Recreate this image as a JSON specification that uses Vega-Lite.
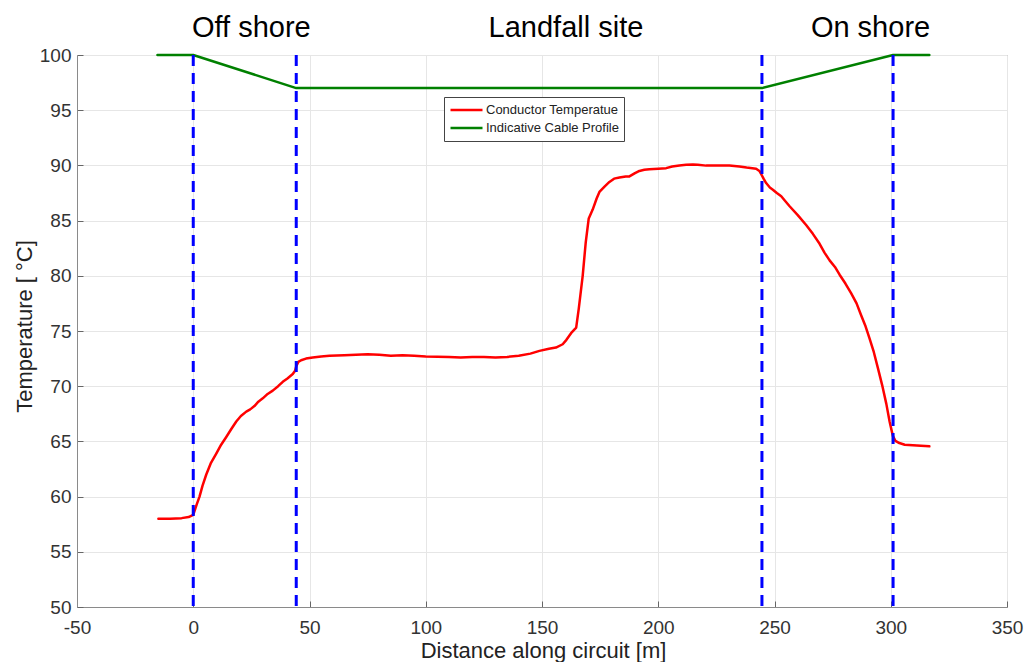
{
  "$schema": "https://vega.github.io/schema/vega-lite/v6.json",
  "width": 930,
  "height": 552,
  "autosize": {"type": "none"},
  "padding": {"left": 77, "top": 55, "right": 20, "bottom": 55},
  "background": "white",
  "config": {
    "font": "Liberation Sans",
    "view": {"stroke": "#8a8a8a", "strokeWidth": 1},
    "axis": {
      "domainColor": "#8a8a8a",
      "gridColor": "#e6e6e6",
      "tickColor": "#666666",
      "tickSize": -6,
      "labelFont": "Liberation Sans",
      "labelFontSize": 19,
      "labelColor": "#333333",
      "titleFont": "Liberation Sans",
      "titleFontSize": 22,
      "titleFontWeight": "normal",
      "titleColor": "#222222"
    },
    "legend": {
      "orient": "none",
      "legendX": 367,
      "legendY": 42,
      "symbolType": "stroke",
      "symbolSize": 1024,
      "symbolStrokeWidth": 2.5,
      "clipHeight": 16,
      "rowPadding": 2,
      "labelFont": "Liberation Sans",
      "labelFontSize": 13,
      "labelColor": "#222222",
      "labelOffset": 2,
      "strokeColor": "#444444",
      "fillColor": "white",
      "padding": 5
    }
  },
  "datasets": {
    "curves": [
      {"series": "Conductor Temperatue", "x": -15, "y": 58.0},
      {"series": "Conductor Temperatue", "x": -10, "y": 58.0},
      {"series": "Conductor Temperatue", "x": -5, "y": 58.05},
      {"series": "Conductor Temperatue", "x": -2, "y": 58.15},
      {"series": "Conductor Temperatue", "x": 0, "y": 58.35},
      {"series": "Conductor Temperatue", "x": 1.5, "y": 59.3},
      {"series": "Conductor Temperatue", "x": 2.7, "y": 60.0},
      {"series": "Conductor Temperatue", "x": 4, "y": 61.0},
      {"series": "Conductor Temperatue", "x": 5.6, "y": 62.0},
      {"series": "Conductor Temperatue", "x": 7.5, "y": 63.0},
      {"series": "Conductor Temperatue", "x": 9.9, "y": 63.9},
      {"series": "Conductor Temperatue", "x": 12, "y": 64.7},
      {"series": "Conductor Temperatue", "x": 14.2, "y": 65.4},
      {"series": "Conductor Temperatue", "x": 16.3, "y": 66.1},
      {"series": "Conductor Temperatue", "x": 18.5, "y": 66.8},
      {"series": "Conductor Temperatue", "x": 20.5, "y": 67.3},
      {"series": "Conductor Temperatue", "x": 22.8, "y": 67.7},
      {"series": "Conductor Temperatue", "x": 24.5, "y": 67.9},
      {"series": "Conductor Temperatue", "x": 26.3, "y": 68.2},
      {"series": "Conductor Temperatue", "x": 28, "y": 68.6},
      {"series": "Conductor Temperatue", "x": 29.9, "y": 68.9},
      {"series": "Conductor Temperatue", "x": 32, "y": 69.3},
      {"series": "Conductor Temperatue", "x": 34.2, "y": 69.6},
      {"series": "Conductor Temperatue", "x": 36.5, "y": 70.0},
      {"series": "Conductor Temperatue", "x": 38.5, "y": 70.4},
      {"series": "Conductor Temperatue", "x": 40.5, "y": 70.7},
      {"series": "Conductor Temperatue", "x": 42.8, "y": 71.1},
      {"series": "Conductor Temperatue", "x": 43.8, "y": 71.4},
      {"series": "Conductor Temperatue", "x": 44.3, "y": 71.8},
      {"series": "Conductor Temperatue", "x": 45.2, "y": 72.2},
      {"series": "Conductor Temperatue", "x": 46.4, "y": 72.35},
      {"series": "Conductor Temperatue", "x": 48.5, "y": 72.5},
      {"series": "Conductor Temperatue", "x": 51.4, "y": 72.6},
      {"series": "Conductor Temperatue", "x": 55, "y": 72.7},
      {"series": "Conductor Temperatue", "x": 58.6, "y": 72.75},
      {"series": "Conductor Temperatue", "x": 65, "y": 72.8},
      {"series": "Conductor Temperatue", "x": 70, "y": 72.85},
      {"series": "Conductor Temperatue", "x": 75, "y": 72.9},
      {"series": "Conductor Temperatue", "x": 80, "y": 72.85},
      {"series": "Conductor Temperatue", "x": 85, "y": 72.75},
      {"series": "Conductor Temperatue", "x": 90, "y": 72.8},
      {"series": "Conductor Temperatue", "x": 95, "y": 72.75},
      {"series": "Conductor Temperatue", "x": 100, "y": 72.7},
      {"series": "Conductor Temperatue", "x": 110, "y": 72.65},
      {"series": "Conductor Temperatue", "x": 115, "y": 72.6},
      {"series": "Conductor Temperatue", "x": 120, "y": 72.65},
      {"series": "Conductor Temperatue", "x": 125, "y": 72.65},
      {"series": "Conductor Temperatue", "x": 130, "y": 72.6},
      {"series": "Conductor Temperatue", "x": 135, "y": 72.65},
      {"series": "Conductor Temperatue", "x": 140, "y": 72.75},
      {"series": "Conductor Temperatue", "x": 145, "y": 72.95},
      {"series": "Conductor Temperatue", "x": 148.9, "y": 73.2},
      {"series": "Conductor Temperatue", "x": 153, "y": 73.4},
      {"series": "Conductor Temperatue", "x": 156, "y": 73.5},
      {"series": "Conductor Temperatue", "x": 158.9, "y": 73.8},
      {"series": "Conductor Temperatue", "x": 160.5, "y": 74.2},
      {"series": "Conductor Temperatue", "x": 162.5, "y": 74.8},
      {"series": "Conductor Temperatue", "x": 164.7, "y": 75.3},
      {"series": "Conductor Temperatue", "x": 165.8, "y": 77.0},
      {"series": "Conductor Temperatue", "x": 167.5, "y": 80.0},
      {"series": "Conductor Temperatue", "x": 168.8, "y": 83.0},
      {"series": "Conductor Temperatue", "x": 170.1, "y": 85.2},
      {"series": "Conductor Temperatue", "x": 171.8, "y": 86.0},
      {"series": "Conductor Temperatue", "x": 173.5, "y": 87.0},
      {"series": "Conductor Temperatue", "x": 174.7, "y": 87.6},
      {"series": "Conductor Temperatue", "x": 177, "y": 88.1},
      {"series": "Conductor Temperatue", "x": 179, "y": 88.5},
      {"series": "Conductor Temperatue", "x": 181, "y": 88.8},
      {"series": "Conductor Temperatue", "x": 183.3, "y": 88.9},
      {"series": "Conductor Temperatue", "x": 186, "y": 89.0},
      {"series": "Conductor Temperatue", "x": 187.6, "y": 89.0},
      {"series": "Conductor Temperatue", "x": 190, "y": 89.3},
      {"series": "Conductor Temperatue", "x": 191.9, "y": 89.5},
      {"series": "Conductor Temperatue", "x": 194, "y": 89.6},
      {"series": "Conductor Temperatue", "x": 196.2, "y": 89.65},
      {"series": "Conductor Temperatue", "x": 200, "y": 89.7},
      {"series": "Conductor Temperatue", "x": 203.4, "y": 89.75},
      {"series": "Conductor Temperatue", "x": 206, "y": 89.9},
      {"series": "Conductor Temperatue", "x": 209.1, "y": 90.0},
      {"series": "Conductor Temperatue", "x": 212, "y": 90.05},
      {"series": "Conductor Temperatue", "x": 214.9, "y": 90.08},
      {"series": "Conductor Temperatue", "x": 217, "y": 90.05},
      {"series": "Conductor Temperatue", "x": 220.6, "y": 89.98},
      {"series": "Conductor Temperatue", "x": 225, "y": 90.0},
      {"series": "Conductor Temperatue", "x": 230.6, "y": 90.0},
      {"series": "Conductor Temperatue", "x": 234.9, "y": 89.9},
      {"series": "Conductor Temperatue", "x": 238, "y": 89.8},
      {"series": "Conductor Temperatue", "x": 242.1, "y": 89.7},
      {"series": "Conductor Temperatue", "x": 243.5, "y": 89.5},
      {"series": "Conductor Temperatue", "x": 244.3, "y": 89.2},
      {"series": "Conductor Temperatue", "x": 245.3, "y": 88.8},
      {"series": "Conductor Temperatue", "x": 246.4, "y": 88.4},
      {"series": "Conductor Temperatue", "x": 248, "y": 88.0},
      {"series": "Conductor Temperatue", "x": 249.3, "y": 87.8},
      {"series": "Conductor Temperatue", "x": 251, "y": 87.5},
      {"series": "Conductor Temperatue", "x": 252.9, "y": 87.2},
      {"series": "Conductor Temperatue", "x": 254.5, "y": 86.8},
      {"series": "Conductor Temperatue", "x": 256.5, "y": 86.3},
      {"series": "Conductor Temperatue", "x": 260, "y": 85.5},
      {"series": "Conductor Temperatue", "x": 263.6, "y": 84.6},
      {"series": "Conductor Temperatue", "x": 266.5, "y": 83.8},
      {"series": "Conductor Temperatue", "x": 269.4, "y": 82.9},
      {"series": "Conductor Temperatue", "x": 271.5, "y": 82.1},
      {"series": "Conductor Temperatue", "x": 273.7, "y": 81.4},
      {"series": "Conductor Temperatue", "x": 276, "y": 80.8},
      {"series": "Conductor Temperatue", "x": 278, "y": 80.1},
      {"series": "Conductor Temperatue", "x": 280.5, "y": 79.3},
      {"series": "Conductor Temperatue", "x": 283, "y": 78.4},
      {"series": "Conductor Temperatue", "x": 285.3, "y": 77.5},
      {"series": "Conductor Temperatue", "x": 287.3, "y": 76.4},
      {"series": "Conductor Temperatue", "x": 289.2, "y": 75.4},
      {"series": "Conductor Temperatue", "x": 290.9, "y": 74.3},
      {"series": "Conductor Temperatue", "x": 292.7, "y": 73.1},
      {"series": "Conductor Temperatue", "x": 294.4, "y": 71.7},
      {"series": "Conductor Temperatue", "x": 296.3, "y": 70.1},
      {"series": "Conductor Temperatue", "x": 298.1, "y": 68.4},
      {"series": "Conductor Temperatue", "x": 299.5, "y": 66.8},
      {"series": "Conductor Temperatue", "x": 300.9, "y": 65.5},
      {"series": "Conductor Temperatue", "x": 302, "y": 65.05},
      {"series": "Conductor Temperatue", "x": 303.7, "y": 64.85},
      {"series": "Conductor Temperatue", "x": 306, "y": 64.7},
      {"series": "Conductor Temperatue", "x": 309.5, "y": 64.65},
      {"series": "Conductor Temperatue", "x": 313, "y": 64.6},
      {"series": "Conductor Temperatue", "x": 316.6, "y": 64.55},
      {"series": "Indicative Cable Profile", "x": -15.4, "y": 100},
      {"series": "Indicative Cable Profile", "x": 0, "y": 100},
      {"series": "Indicative Cable Profile", "x": 44.3, "y": 97},
      {"series": "Indicative Cable Profile", "x": 244.6, "y": 97},
      {"series": "Indicative Cable Profile", "x": 301, "y": 100},
      {"series": "Indicative Cable Profile", "x": 316.6, "y": 100}
    ],
    "markers": [
      {"x": 0},
      {"x": 44.3},
      {"x": 244.6},
      {"x": 301}
    ],
    "labels": [
      {"x": 25, "y": 101.66, "label": "Off shore"},
      {"x": 160.3, "y": 101.66, "label": "Landfall site"},
      {"x": 291.3, "y": 101.66, "label": "On shore"}
    ]
  },
  "layer": [
    {
      "data": {"name": "curves"},
      "mark": {"type": "line", "strokeWidth": 2.5, "strokeCap": "round", "strokeJoin": "round"},
      "encoding": {
        "x": {
          "field": "x", "type": "quantitative",
          "scale": {"domain": [-50, 350], "nice": false, "zero": false},
          "title": "Distance along circuit [m]",
          "axis": {
            "values": [-50, 0, 50, 100, 150, 200, 250, 300, 350],
            "labelExpr": "'' + datum.value",
            "labelPadding": 17,
            "labelFlush": false,
            "labelOverlap": false,
            "titleX": 466,
            "titleY": 50,
            "titleBaseline": "alphabetic",
            "titleAlign": "center",
            "titleAnchor": "start"
          }
        },
        "y": {
          "field": "y", "type": "quantitative",
          "scale": {"domain": [50, 100], "nice": false, "zero": false},
          "title": "Temperature [ °C]",
          "axis": {
            "values": [50, 55, 60, 65, 70, 75, 80, 85, 90, 95, 100],
            "labelExpr": "'' + datum.value",
            "labelPadding": 12,
            "labelFlush": false,
            "labelOverlap": false,
            "titleAngle": -90,
            "titleX": -46,
            "titleY": 271,
            "titleBaseline": "alphabetic",
            "titleAlign": "center",
            "titleAnchor": "start"
          }
        },
        "color": {
          "field": "series", "type": "nominal",
          "scale": {"domain": ["Conductor Temperatue", "Indicative Cable Profile"], "range": ["#ff0000", "#008000"]},
          "legend": {"title": null}
        },
        "order": {"field": "x", "type": "quantitative"}
      }
    },
    {
      "data": {"name": "markers"},
      "mark": {"type": "rule", "color": "#0000ff", "strokeWidth": 3, "strokeDash": [11, 7]},
      "encoding": {
        "x": {"field": "x", "type": "quantitative", "title": "Distance along circuit [m]"}
      }
    },
    {
      "data": {"name": "labels"},
      "mark": {"type": "text", "fontSize": 29, "font": "Liberation Sans", "align": "center", "baseline": "alphabetic", "color": "#000000"},
      "encoding": {
        "x": {"field": "x", "type": "quantitative", "title": "Distance along circuit [m]"},
        "y": {"field": "y", "type": "quantitative", "title": "Temperature [ °C]"},
        "text": {"field": "label"}
      }
    }
  ]
}
